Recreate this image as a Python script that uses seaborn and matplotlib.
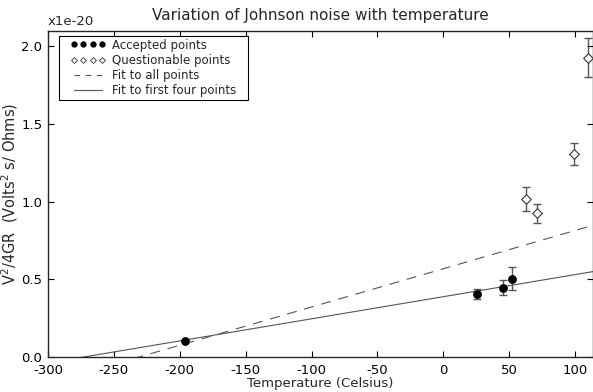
import numpy as np
import pandas as pd
import matplotlib
matplotlib.use("Agg")
import matplotlib.pyplot as plt
import seaborn as sns
from matplotlib.lines import Line2D
from matplotlib.patches import Rectangle

# values, y in units of 1e-20 V^2 s / Ohm
accepted_temp = [-196, 25.5, 45.2, 52.5]
accepted_val = [0.103, 0.408, 0.447, 0.506]
accepted_err = [0.0, 0.032, 0.05, 0.072]

questionable_temp = [62.6, 71.2, 99.2, 110.1]
questionable_val = [1.021, 0.925, 1.306, 1.929]
questionable_err = [0.077, 0.062, 0.07, 0.126]

# fitted lines (slope per degree, value at 0 C)
fit_all = (0.002463, 0.569)
fit_four = (0.001423, 0.389)
fit_range = [-300, 114]

legend_labels = ["Accepted points", "Questionable points", "Fit to all points", "Fit to first four points"]

sns.set_style("ticks")
plt.rcParams.update({
    "font.family": ["DejaVu Sans"],
    "axes.unicode_minus": False,
    "mathtext.default": "regular",
    "xtick.direction": "in",
    "ytick.direction": "in",
    "xtick.top": True,
    "ytick.right": True,
    "xtick.major.size": 4,
    "ytick.major.size": 4,
    "axes.linewidth": 1.0,
})

acc = pd.DataFrame({"temp": accepted_temp, "val": accepted_val, "err": accepted_err})
que = pd.DataFrame({"temp": questionable_temp, "val": questionable_val, "err": questionable_err})
fx = np.array(fit_range, dtype=float)
fits = pd.DataFrame({
    "temp": np.concatenate([fx, fx]),
    "val": np.concatenate([fit_all[0] * fx + fit_all[1], fit_four[0] * fx + fit_four[1]]),
    "fit": ["all"] * 2 + ["four"] * 2,
})

dash = (0, (9, 7))
line_col = "#555555"

fig = plt.figure(figsize=(5.93, 3.92), dpi=100)
ax = fig.add_axes([0.081, 0.089, 0.919, 0.832])

sns.lineplot(data=fits[fits.fit == "all"], x="temp", y="val", ax=ax,
             color=line_col, lw=0.8, linestyle=dash)
sns.lineplot(data=fits[fits.fit == "four"], x="temp", y="val", ax=ax,
             color=line_col, lw=0.8)

e1 = acc[acc.err > 0]
ax.errorbar(e1.temp, e1.val, yerr=e1.err, fmt="none", ecolor="#555555",
            elinewidth=1, capsize=3, capthick=1)
ax.errorbar(que.temp, que.val, yerr=que.err, fmt="none", ecolor="#555555",
            elinewidth=1, capsize=3, capthick=1)

sns.scatterplot(data=acc, x="temp", y="val", ax=ax, marker="o", s=34,
                color="black", edgecolor="black", zorder=5)
sns.scatterplot(data=que, x="temp", y="val", ax=ax, marker="D", s=24,
                facecolor="white", edgecolor="#333333", linewidth=0.8, zorder=5)

ax.set_xlim(-300, 113.6)
ax.set_ylim(0, 2.1)
ax.set_xticks(np.arange(-300, 101, 50))
ax.set_yticks(np.arange(0, 2.01, 0.5))
ax.yaxis.set_major_formatter(matplotlib.ticker.FormatStrFormatter("%.1f"))
ax.tick_params(labelsize=9.5, width=0.8, colors="black")
ax.tick_params(axis="y", pad=4)
ax.tick_params(axis="x", pad=5)

ax.set_xlabel("Temperature (Celsius)", fontsize=9.5, labelpad=0)
ax.set_ylabel(r"$V^2/4GR$  (Volts$^2$ s/ Ohms)", fontsize=10.5, labelpad=1)
ax.set_title("Variation of Johnson noise with temperature", fontsize=11, pad=8)
ax.text(0.0, 1.01, "x1e-20", transform=ax.transAxes, fontsize=9.5, va="bottom", ha="left")

handles = [
    Line2D([], [], ls="none", marker="o", color="black", ms=3.5),
    Line2D([], [], ls="none", marker="D", mfc="white", mec="#333333", ms=3, mew=0.6),
    Line2D([], [], color=line_col, lw=0.8, linestyle=(0, (5, 5))),
    Line2D([], [], color=line_col, lw=0.8),
]
leg = ax.legend(handles, legend_labels, loc="upper left", fontsize=8.5, numpoints=4,
                frameon=False, handlelength=3.0, handletextpad=0.5,
                bbox_to_anchor=(0.038, 0.982), borderaxespad=0, borderpad=0.15,
                labelspacing=0.18)
leg.set_zorder(7)

# classic style frame: wide side padding, tight top/bottom
fig.canvas.draw()
bb = leg.get_window_extent()
pad_x, pad_y = 10, 1
(x0, y0), (x1, y1) = ax.transAxes.inverted().transform(
    [(bb.x0 - pad_x, bb.y0 - pad_y), (bb.x1 + pad_x, bb.y1 + pad_y)])
frame = Rectangle((x0, y0), x1 - x0, y1 - y0, transform=ax.transAxes,
                  facecolor="white", edgecolor="black", lw=0.8, zorder=6, clip_on=False)
ax.add_patch(frame)

fig.savefig("out.png", dpi=100, facecolor="white")
